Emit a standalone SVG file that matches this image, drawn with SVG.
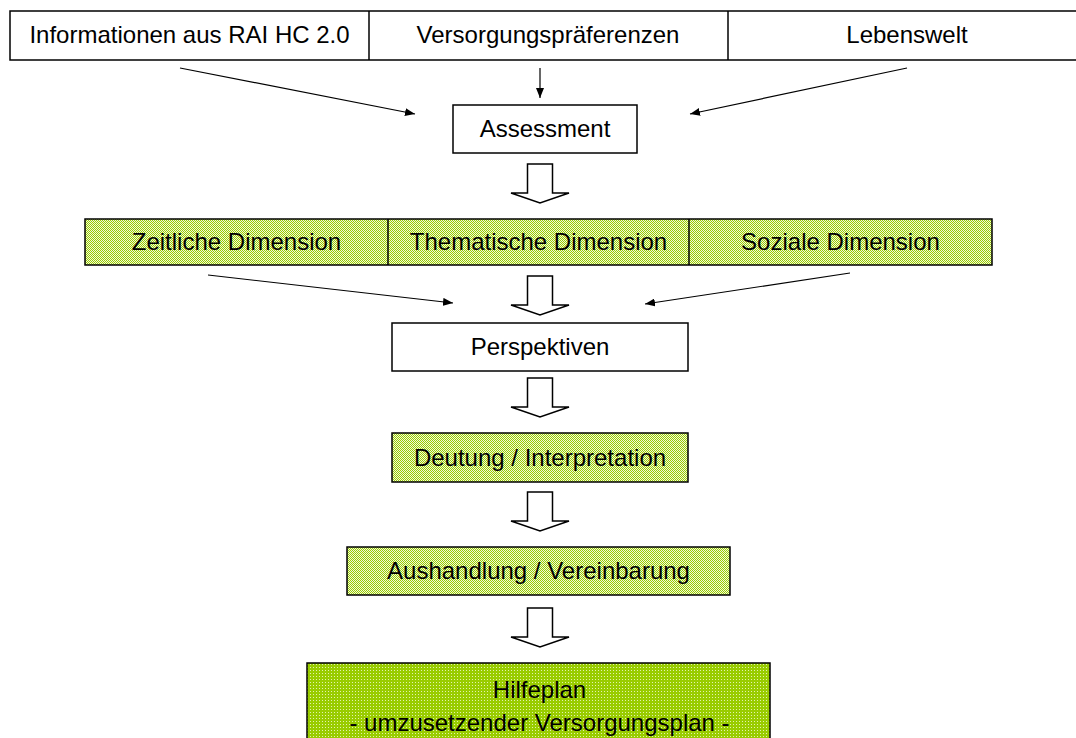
<svg xmlns="http://www.w3.org/2000/svg" width="1076" height="738" viewBox="0 0 1076 738">
<style>
text{font-family:"Liberation Sans",Arial,sans-serif;font-size:24px;fill:#000;text-anchor:middle}
.box{stroke:#000;stroke-width:1.5}
.w{fill:#fff}
.g{fill:url(#lg)}
.dg{fill:url(#dg)}
.div{stroke:#000;stroke-width:1.5}
.con{stroke:#000;stroke-width:1.2;fill:none;marker-end:url(#ah)}
.big{fill:#fff;stroke:#000;stroke-width:1.5;stroke-linejoin:miter}
</style>
<defs>
<pattern id="lg" width="2" height="2" patternUnits="userSpaceOnUse">
<rect width="2" height="2" fill="#f2f9dc"/>
<rect width="1" height="1" fill="#99cc00"/>
<rect x="1" y="1" width="1" height="1" fill="#99cc00"/>
</pattern>
<pattern id="dg" width="3" height="3" patternUnits="userSpaceOnUse">
<rect width="3" height="3" fill="#99cc00"/>
<rect x="1" y="1" width="1" height="1" fill="#e4f2b0"/>
</pattern>
<marker id="ah" viewBox="0 0 10 8" refX="10" refY="4" markerWidth="10" markerHeight="8" markerUnits="userSpaceOnUse" orient="auto">
<path d="M0,0 L10,4 L0,8 z" fill="#000"/>
</marker>
<path id="hollow" d="M-12.5,0 H12.5 V29 H29 L0,39 L-29,29 H-12.5 Z"/>
</defs>

<g id="top-row">
<rect class="box w" x="10" y="11" width="1080" height="49"/>
<line class="div" x1="369" y1="11" x2="369" y2="60"/>
<line class="div" x1="728" y1="11" x2="728" y2="60"/>
</g>
<g id="n-info"><text x="189.5" y="43">Informationen aus RAI HC 2.0</text></g>
<g id="n-versorgung"><text x="548" y="43">Versorgungspräferenzen</text></g>
<g id="n-lebenswelt"><text x="907" y="43">Lebenswelt</text></g>

<g id="n-assessment">
<rect class="box w" x="453" y="105" width="184" height="48"/>
<text x="545" y="137">Assessment</text>
</g>

<g id="dim-row">
<rect class="box g" x="85" y="219" width="907" height="46"/>
<line class="div" x1="388" y1="219" x2="388" y2="265"/>
<line class="div" x1="689" y1="219" x2="689" y2="265"/>
</g>
<g id="n-zeit"><text x="236.5" y="250">Zeitliche Dimension</text></g>
<g id="n-thema"><text x="538.5" y="250">Thematische Dimension</text></g>
<g id="n-sozial"><text x="840.5" y="250">Soziale Dimension</text></g>

<g id="n-perspektiven">
<rect class="box w" x="392" y="323" width="296" height="48"/>
<text x="540" y="355">Perspektiven</text>
</g>

<g id="n-deutung">
<rect class="box g" x="392" y="433" width="296" height="49"/>
<text x="540" y="466">Deutung / Interpretation</text>
</g>

<g id="n-aushandlung">
<rect class="box g" x="347" y="547" width="383" height="48"/>
<text x="538.5" y="579">Aushandlung / Vereinbarung</text>
</g>

<g id="n-hilfeplan">
<rect class="box dg" x="307" y="663" width="463" height="90"/>
<text x="539.5" y="698">Hilfeplan</text>
<text x="539.5" y="731">- umzusetzender Versorgungsplan -</text>
</g>

<g id="connectors">
<line class="con" x1="180" y1="68" x2="415" y2="114"/>
<line class="con" x1="540" y1="68" x2="540" y2="98"/>
<line class="con" x1="907" y1="68" x2="690" y2="114"/>
<line class="con" x1="208" y1="275" x2="453" y2="303"/>
<line class="con" x1="850" y1="273" x2="645" y2="304"/>
<use href="#hollow" class="big" x="540" y="164"/>
<use href="#hollow" class="big" x="540" y="276"/>
<use href="#hollow" class="big" x="540" y="378"/>
<use href="#hollow" class="big" x="540" y="492"/>
<use href="#hollow" class="big" x="540" y="608"/>
</g>
</svg>
